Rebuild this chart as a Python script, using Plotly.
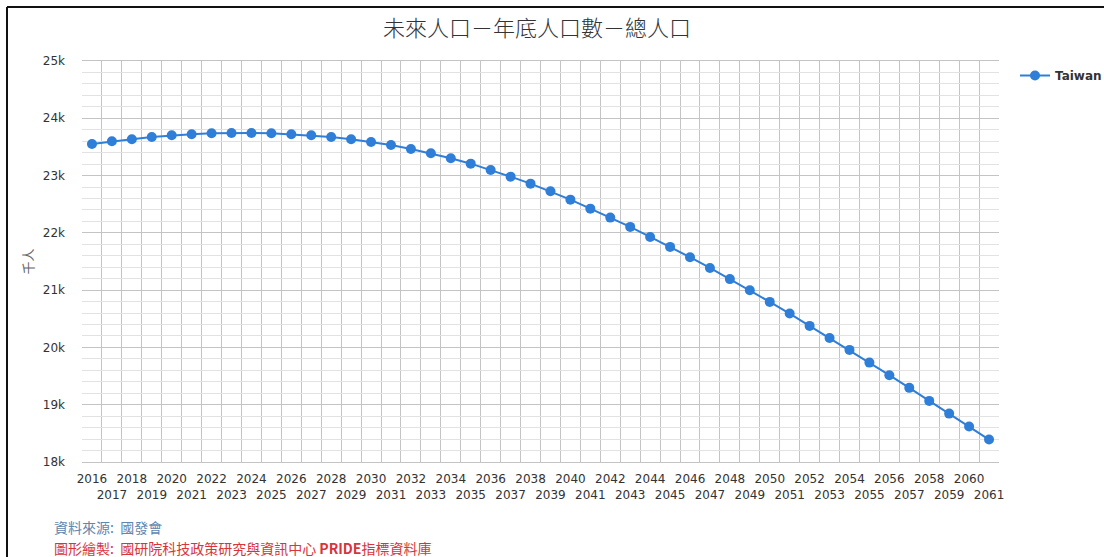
import plotly.graph_objects as go

years = list(range(2016, 2062))
population = [
    23552, 23599, 23634, 23674, 23703, 23721, 23738, 23744, 23744, 23738,
    23721, 23703, 23674, 23634, 23587, 23534, 23464, 23389, 23302, 23208,
    23098, 22981, 22859, 22726, 22580, 22423, 22266, 22104, 21929, 21755,
    21575, 21388, 21193, 20999, 20795, 20591, 20376, 20166, 19957, 19735,
    19515, 19294, 19067, 18845, 18619, 18392,
]
series_name = "Taiwan"
y_tickvals = [18000, 19000, 20000, 21000, 22000, 23000, 24000, 25000]
y_ticktext = ["18k", "19k", "20k", "21k", "22k", "23k", "24k", "25k"]
x_ticktext = [str(y) if (y - 2016) % 2 == 0 else "<br>" + str(y) for y in years]

title_text = "未來人口－年底人口數－總人口"
y_title = "千人"
source_text = "資料來源:  國發會"
credit_text = "圖形繪製:  國研院科技政策研究與資訊中心 <b>PRIDE</b>指標資料庫"

W, H = 1104, 557
L, R, T, B = 82, 105, 61, 95
pw, ph = W - L - R, H - T - B

def px_x(px):
    return (px - L) / pw

def px_y(py):
    return (H - B - py) / ph

fig = go.Figure()
fig.add_trace(go.Scatter(
    x=years, y=population, name=series_name, mode="lines+markers",
    line=dict(color="#2f7ed8", width=2),
    marker=dict(color="#2f7ed8", size=10),
))

label_font = dict(family="DejaVu Sans", size=12, color="#333333")
cjk = "Noto Sans CJK TC"

fig.update_layout(
    width=W, height=H,
    margin=dict(l=L, r=R, t=T, b=B, autoexpand=False),
    paper_bgcolor="white", plot_bgcolor="white",
    title=dict(text=title_text, x=537 / W, xref="container", xanchor="center",
               y=1 - 28 / H, yref="container", yanchor="middle",
               font=dict(family=cjk, size=22, color="#333333", weight=300)),
    showlegend=True,
    legend=dict(x=1015 / W, xref="container", y=1 - 61 / H, yref="container",
                xanchor="left", yanchor="top", bgcolor="rgba(0,0,0,0)",
                itemwidth=30,
                font=dict(family="DejaVu Sans", size=12, color="#333333", weight="bold")),
    xaxis=dict(
        range=[2015.5, 2061.5], tickmode="array", tickvals=years, ticktext=x_ticktext,
        tickangle=0,
        showgrid=False, zeroline=False, ticks="", tickfont=label_font,
        ticklabelstandoff=6,
        minor=dict(tickmode="linear", tick0=2015.5, dtick=1, showgrid=True,
                   gridcolor="#c4c4c4", gridwidth=1, ticks=""),
        showline=True, linecolor="#c4c4c4", linewidth=1, mirror=True,
        fixedrange=True,
    ),
    yaxis=dict(
        range=[18000, 25000], tickmode="array", tickvals=y_tickvals, ticktext=y_ticktext,
        showgrid=True, gridcolor="#c4c4c4", gridwidth=1, zeroline=False, ticks="",
        tickfont=label_font, ticklabelstandoff=16,
        minor=dict(tickmode="linear", tick0=18000, dtick=200, showgrid=True,
                   gridcolor="#e2e2e2", gridwidth=1, ticks=""),
        title=dict(text=y_title, standoff=6, font=dict(family=cjk, size=13, color="#666666")),
        fixedrange=True,
    ),
    annotations=[
        dict(text=source_text, xref="paper", yref="paper", x=px_x(52), y=px_y(527),
             xanchor="left", yanchor="middle", showarrow=False,
             font=dict(family=cjk, size=14, color="#5f86b0")),
        dict(text=credit_text, xref="paper", yref="paper", x=px_x(52), y=px_y(548),
             xanchor="left", yanchor="middle", showarrow=False,
             font=dict(family=cjk, size=14, color="#d7353b")),
    ],
    shapes=[
        dict(type="line", xref="paper", yref="paper", x0=px_x(7), x1=px_x(1110),
             y0=px_y(7), y1=px_y(7), line=dict(color="#111111", width=2)),
        dict(type="line", xref="paper", yref="paper", x0=px_x(7), x1=px_x(7),
             y0=px_y(7), y1=px_y(565), line=dict(color="#111111", width=2)),
    ],
)

fig.write_html("out.html", config={"displayModeBar": False},
               post_script="document.body.style.margin='0';document.body.style.overflow='hidden';")
